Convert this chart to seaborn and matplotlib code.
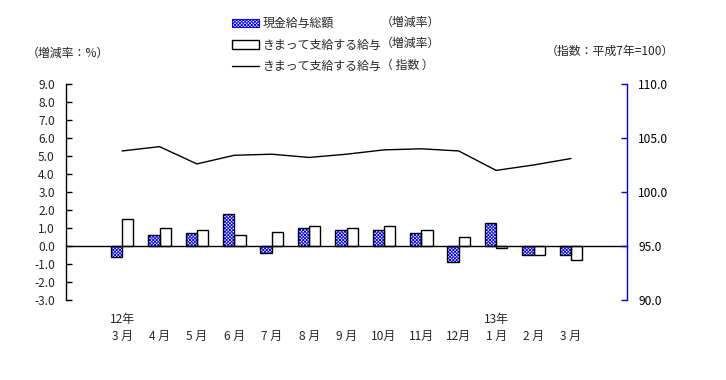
import numpy as np
import pandas as pd
import matplotlib
matplotlib.use("Agg")
import matplotlib.pyplot as plt
from matplotlib.patches import Patch, Rectangle
from matplotlib.lines import Line2D
from matplotlib.ticker import FormatStrFormatter
import seaborn as sns

# データ（平成12年3月～13年3月）
years = [12, 12, 12, 12, 12, 12, 12, 12, 12, 12, 13, 13, 13]
months = [3, 4, 5, 6, 7, 8, 9, 10, 11, 12, 1, 2, 3]
cash_total = [-0.6, 0.6, 0.7, 1.8, -0.4, 1.0, 0.9, 0.9, 0.7, -0.9, 1.3, -0.5, -0.5]
regular_pay = [1.5, 1.0, 0.9, 0.6, 0.8, 1.1, 1.0, 1.1, 0.9, 0.5, -0.1, -0.5, -0.8]
regular_index = [103.8, 104.2, 102.6, 103.4, 103.5, 103.2, 103.5, 103.9, 104.0,
                 103.8, 102.0, 102.5, 103.1]

SERIES = ["現金給与総額", "きまって支給する給与"]
LEGEND_RIGHT = ["（増減率）", "（増減率）", "（ 指数 ）"]
FONT = ["Noto Sans CJK JP", "DejaVu Sans"]
FS = 8.6
BLUE = "#0000ff"
HATCH = "xxxxxxxxxx"

sns.set_theme(style="white")
plt.rcParams["font.family"] = FONT
plt.rcParams["axes.unicode_minus"] = False
plt.rcParams["hatch.linewidth"] = 0.6

keys = [f"{y}-{m}" for y, m in zip(years, months)]
order = ["_start"] + keys + ["_end"]
df = pd.DataFrame({
    "key": keys * 2,
    "series": [SERIES[0]] * len(keys) + [SERIES[1]] * len(keys),
    "value": cash_total + regular_pay,
})

fig = plt.figure(figsize=(7.26, 3.80), dpi=100)
ax = fig.add_axes([66 / 726, 80 / 380, 561 / 726, 216 / 380])

sns.barplot(data=df, x="key", y="value", hue="series", order=order,
            hue_order=SERIES, palette=["white", "white"], saturation=1,
            width=0.6, edgecolor="black", linewidth=1, ax=ax, legend=False)

# 現金給与総額: 青の網掛け + 黒枠
for p in ax.containers[0]:
    p.set_hatch(HATCH)
    p.set_edgecolor(BLUE)
    p.set_linewidth(0)
    ax.add_patch(Rectangle(p.get_xy(), p.get_width(), p.get_height(),
                           fill=False, ec="black", lw=1, zorder=p.get_zorder() + 0.1))

ax.set_xlim(-0.5, len(order) - 0.5)
ax.set_ylim(-3, 9)
ax.set_yticks(np.arange(-3, 10, 1))
ax.yaxis.set_major_formatter(FormatStrFormatter("%.1f"))
ax.set_xticks(np.arange(0.5, len(order) - 1, 1))
ax.tick_params(axis="x", direction="in", length=4, width=1, color="black",
               labelbottom=False)
ax.tick_params(axis="y", direction="in", length=4, width=1, color="black",
               labelsize=FS, pad=8)
ax.set_xlabel("")
ax.set_ylabel("")
for s in ["top", "right"]:
    ax.spines[s].set_visible(False)
ax.spines["bottom"].set_position(("data", 0))
ax.spines["bottom"].set_color("black")
ax.spines["left"].set_color("black")
ax.spines["bottom"].set_linewidth(1)
ax.spines["left"].set_linewidth(1)

# 指数（右軸）
ax2 = ax.twinx()
positions = np.arange(1, len(keys) + 1)
sns.lineplot(x=positions, y=regular_index, ax=ax2, color="black", lw=1)
ax2.set_ylim(90, 110)
ax2.set_yticks(np.arange(90, 111, 5))
ax2.yaxis.set_major_formatter(FormatStrFormatter("%.1f"))
ax2.tick_params(axis="y", direction="in", length=4, width=1, color=BLUE,
                labelcolor="black", labelsize=FS, pad=8)
for s in ["top", "left", "bottom"]:
    ax2.spines[s].set_visible(False)
ax2.spines["right"].set_color(BLUE)
ax2.spines["right"].set_linewidth(1)
ax2.set_xlim(-0.5, len(order) - 0.5)

# 横軸ラベル
xt = ax.get_xaxis_transform()
for pos, y, m in zip(positions, years, months):
    label = f"{m} 月" if m < 10 else f"{m}月"
    ax.text(pos, -0.167, label, transform=xt, ha="center", va="center", fontsize=FS)
for pos, y, prev in zip(positions, years, [None] + years[:-1]):
    if y != prev:
        ax.text(pos, -0.088, f"{y}年", transform=xt, ha="center", va="center",
                fontsize=FS)

fig.text(27 / 726, 1 - 53 / 380, "（増減率：%）", ha="left", va="center", fontsize=FS)
fig.text(674 / 726, 1 - 51 / 380, "（指数：平成7年=100）", ha="right", va="center",
         fontsize=FS)

# 凡例
handles = [
    Patch(facecolor="white", edgecolor=BLUE, hatch=HATCH, lw=0.8),
    Patch(facecolor="white", edgecolor="black", lw=1),
    Line2D([], [], color="black", lw=1),
]
labels = [SERIES[0], SERIES[1], SERIES[1]]
fig.legend(handles, labels, loc="upper left", bbox_to_anchor=(232 / 726, 1 - 17 / 380),
           frameon=False, fontsize=FS, handlelength=2.3, handletextpad=0.25,
           labelspacing=0.72, borderpad=0, borderaxespad=0)
for i, txt in enumerate(LEGEND_RIGHT):
    fig.text(381 / 726, 1 - (22 + 21.5 * i) / 380, txt, ha="left", va="center",
             fontsize=FS)

fig.savefig("out.png", dpi=100)
